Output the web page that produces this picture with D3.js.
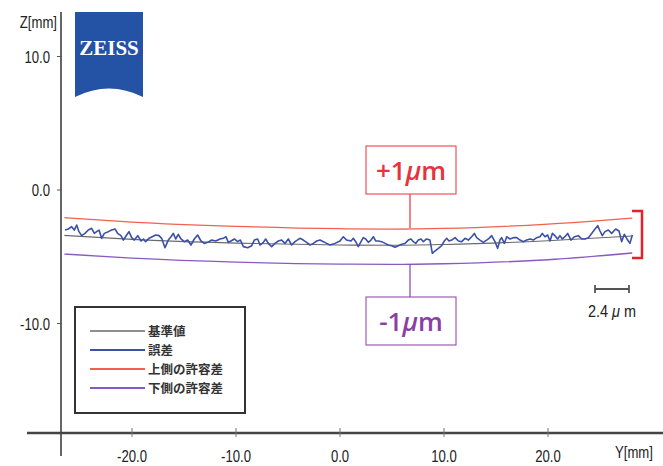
<!DOCTYPE html>
<html>
<head>
<meta charset="utf-8">
<title>Z profile</title>
<script src="https://d3js.org/d3.v7.min.js"></script>
<style>
  body { margin: 0; background: #fff; }
  svg { display: block; }
  .tick-lbl { font-family: "Liberation Sans", Arial, sans-serif; font-size: 16px; fill: #222; }
  .leg { font-family: "Noto Sans CJK JP", sans-serif; font-size: 12.5px; font-weight: bold; fill: #333; }
</style>
</head>
<body>
<div id="chart"></div>
<script>
const width = 663, height = 466;

// nominal / tolerance curves, Y in mm, Z in mm
const curveY = [-26.5, -20, -10, 0, 5, 10, 20, 28.1];
const nominalZ = [-3.40, -3.70, -3.98, -4.12, -4.14, -4.08, -3.80, -3.45];
const upperZ = [-2.07, -2.40, -2.72, -2.90, -2.93, -2.88, -2.55, -2.10];
const lowerZ = [-4.80, -5.10, -5.40, -5.55, -5.57, -5.52, -5.22, -4.72];

// measured profile (error)
const errY = [-26.44, -26.12, -25.80, -25.55, -25.32, -25.10, -24.84, -24.52, -24.20, -23.88,
  -23.62, -23.40, -23.17, -22.92, -22.66, -22.28, -21.96, -21.63, -21.38, -21.06,
  -20.83, -20.51, -20.29, -20.03, -19.78, -19.45, -19.13, -18.91, -18.69, -18.37,
  -18.05, -17.72, -17.40, -17.15, -16.83, -16.51, -16.25, -16.03, -15.80, -15.55,
  -15.29, -14.97, -14.65, -14.33, -14.01, -13.69, -13.37, -13.05, -12.72, -12.34,
  -11.95, -11.54, -11.22, -10.96, -10.74, -10.48, -10.16, -9.84, -9.58, -9.29,
  -8.88, -8.49, -8.24, -7.92, -7.69, -7.37, -7.15, -6.89, -6.57, -6.25,
  -5.93, -5.61, -5.29, -4.97, -4.65, -4.33, -3.85, -3.53, -3.21, -2.88,
  -2.56, -2.24, -1.92, -1.60, -1.28, -0.96, -0.48, 0.00, 0.32, 0.64,
  1.06, 1.28, 1.51, 1.76, 2.02, 2.24, 2.47, 2.72, 2.98, 3.21,
  3.43, 3.69, 4.01, 4.33, 4.65, 4.97, 5.29, 5.61, 5.93, 6.25,
  6.57, 6.83, 7.05, 7.28, 7.53, 7.79, 8.01, 8.33, 8.65, 8.88,
  9.13, 9.46, 9.78, 10.03, 10.26, 10.48, 10.74, 11.06, 11.38, 11.70,
  12.02, 12.34, 12.66, 12.92, 13.14, 13.46, 13.78, 14.10, 14.33, 14.58,
  14.90, 15.16, 15.38, 15.54, 15.80, 16.03, 16.35, 16.67, 16.99, 17.31,
  17.63, 17.95, 18.27, 18.59, 18.91, 19.23, 19.45, 19.71, 19.97, 20.19,
  20.42, 20.67, 20.93, 21.15, 21.38, 21.63, 21.89, 22.21, 22.53, 22.92,
  23.24, 23.56, 23.88, 24.20, 24.52, 24.78, 25.00, 25.22, 25.48, 25.80,
  26.12, 26.51, 26.83, 27.08, 27.34, 27.66, 27.88, 28.11];
const errZ = [-3.00, -2.92, -2.75, -3.00, -2.62, -3.12, -3.42, -3.25, -3.00, -2.87,
  -3.25, -3.12, -3.00, -3.62, -3.25, -3.12, -3.00, -2.92, -3.25, -3.42,
  -3.75, -3.37, -3.12, -3.57, -3.75, -3.42, -3.82, -3.67, -3.87, -3.62,
  -3.50, -3.37, -3.42, -3.62, -4.32, -3.75, -3.50, -3.25, -3.67, -3.32,
  -3.67, -3.87, -3.75, -4.12, -3.67, -3.37, -3.82, -4.00, -3.92, -3.75,
  -3.82, -3.67, -3.62, -3.50, -3.92, -3.82, -3.67, -3.87, -3.75, -4.24,
  -4.32, -4.17, -3.75, -3.67, -4.12, -3.92, -3.67, -4.00, -4.24, -4.00,
  -3.82, -3.75, -4.00, -3.67, -4.12, -3.87, -3.62, -3.75, -3.92, -4.12,
  -4.00, -3.82, -3.75, -3.87, -4.00, -4.12, -4.00, -3.82, -3.50, -3.75,
  -3.82, -3.62, -3.87, -4.24, -3.87, -3.57, -3.67, -3.92, -3.75, -3.50,
  -3.82, -3.82, -3.87, -4.00, -4.12, -4.17, -4.29, -4.17, -4.07, -4.00,
  -3.75, -3.67, -3.87, -4.00, -3.75, -3.67, -3.87, -3.67, -3.75, -4.74,
  -4.57, -4.37, -4.17, -3.82, -3.62, -3.82, -3.75, -3.57, -3.82, -3.87,
  -3.62, -3.75, -3.50, -3.25, -3.57, -3.75, -3.92, -3.75, -3.62, -3.42,
  -3.87, -4.37, -3.75, -3.57, -4.00, -3.50, -3.67, -3.57, -3.57, -3.75,
  -3.87, -3.75, -3.67, -3.75, -3.57, -3.50, -3.25, -3.50, -3.37, -3.82,
  -3.25, -3.42, -3.67, -3.42, -3.67, -3.50, -3.25, -3.75, -3.50, -3.42,
  -3.67, -3.67, -3.57, -3.25, -2.92, -2.67, -3.07, -3.42, -3.12, -3.00,
  -3.25, -2.92, -3.07, -3.87, -3.32, -3.75, -4.00, -3.37];

const xTicks = [-20, -10, 0, 10, 20];
const zTicks = [10, 0, -10];

const legendNames = ["基準値", "誤差", "上側の許容差", "下側の許容差"];
const legendColors = ["#6a6a6a", "#3b50a8", "#f2604f", "#8a5ac2"];

const svg = d3.select("#chart").append("svg")
  .attr("width", width).attr("height", height);

const x = d3.scaleLinear().domain([-20, 20]).range([132, 548]);
const y = d3.scaleLinear().domain([-10, 10]).range([323.5, 56.5]);
const fmt = d => d3.format(".1f")(d).replace("−", "-");

// condensed label helper
function label(px, py, txt, anchor) {
  return svg.append("text").attr("class", "tick-lbl")
    .attr("transform", "translate(" + px + "," + py + ") scale(0.82,1)")
    .attr("text-anchor", anchor)
    .text(txt);
}

// axes
svg.append("line").attr("x1", 61).attr("x2", 61).attr("y1", 12).attr("y2", 456)
  .attr("stroke", "#333").attr("stroke-width", 1.5);
svg.append("line").attr("x1", 27).attr("x2", 663).attr("y1", 433).attr("y2", 433)
  .attr("stroke", "#444").attr("stroke-width", 2.5);

svg.selectAll(".zt").data(zTicks).enter().append("line")
  .attr("x1", 57).attr("x2", 62)
  .attr("y1", d => y(d)).attr("y2", d => y(d))
  .attr("stroke", "#555");
zTicks.forEach(d => label(50, y(d) + 6, fmt(d), "end"));
label(57, 28, "Z[mm]", "end");

svg.selectAll(".xt").data(xTicks).enter().append("line")
  .attr("x1", d => x(d)).attr("x2", d => x(d))
  .attr("y1", 428).attr("y2", 437)
  .attr("stroke", "#777");
xTicks.forEach(d => label(x(d), 462, fmt(d), "middle"));
label(634, 458, "Y[mm]", "middle");

// ZEISS logo
svg.append("path")
  .attr("d", "M75,12 H143 V97 Q109,80 75,97 Z")
  .attr("fill", "#2452a4");
svg.append("text")
  .attr("x", 109).attr("y", 55)
  .attr("text-anchor", "middle")
  .style("font-family", "'Liberation Serif', 'DejaVu Serif', serif")
  .style("font-weight", "bold")
  .style("font-size", "21px")
  .attr("fill", "#fff")
  .text("ZEISS");

// curves
const smooth = d3.line().x(d => x(d[0])).y(d => y(d[1])).curve(d3.curveMonotoneX);
const straight = d3.line().x(d => x(d[0])).y(d => y(d[1]));

svg.append("path").datum(curveY.map((v, i) => [v, upperZ[i]]))
  .attr("d", smooth).attr("fill", "none").attr("stroke", legendColors[2]).attr("stroke-width", 1.2);
svg.append("path").datum(curveY.map((v, i) => [v, lowerZ[i]]))
  .attr("d", smooth).attr("fill", "none").attr("stroke", legendColors[3]).attr("stroke-width", 1.4);
svg.append("path").datum(curveY.map((v, i) => [v, nominalZ[i]]))
  .attr("d", smooth).attr("fill", "none").attr("stroke", legendColors[0]).attr("stroke-width", 1.1);
svg.append("path").datum(errY.map((v, i) => [v, errZ[i]]))
  .attr("d", straight).attr("fill", "none").attr("stroke", legendColors[1])
  .attr("stroke-width", 1.6).attr("stroke-linejoin", "round");

// +1 / -1 annotations
const annX = 410;
svg.append("line").attr("x1", annX).attr("x2", annX).attr("y1", 194).attr("y2", 228)
  .attr("stroke", "#e8323c").attr("stroke-width", 1.2);
svg.append("line").attr("x1", annX).attr("x2", annX).attr("y1", 264).attr("y2", 297)
  .attr("stroke", "#8a3fa6").attr("stroke-width", 1.2);

function box(y0, col, txt) {
  svg.append("rect").attr("x", 366).attr("y", y0).attr("width", 90).attr("height", 48)
    .attr("fill", "#fff").attr("stroke", col).attr("stroke-width", 1);
  const t = svg.append("text").attr("x", 411).attr("y", y0 + 34)
    .attr("text-anchor", "middle")
    .style("font-family", "'Open Sans', 'Noto Sans', sans-serif")
    .style("font-weight", "600")
    .style("font-size", "26px").attr("fill", col);
  t.append("tspan").text(txt);
  t.append("tspan").style("font-style", "italic").text("μ");
  t.append("tspan").text("m");
}
box(146, "#e8323c", "+1");
box(297, "#8a3fa6", "-1");

// red bracket
svg.append("path").attr("d", "M632,211 H642 V258 H632")
  .attr("fill", "none").attr("stroke", "#e8202a").attr("stroke-width", 2.5);

// scale bar
svg.append("path").attr("d", "M595,285 V293 M595,289 H629 M629,285 V293")
  .attr("fill", "none").attr("stroke", "#555").attr("stroke-width", 1.8);
const sb = svg.append("text").attr("class", "tick-lbl")
  .attr("transform", "translate(612,317) scale(0.85,1)")
  .attr("text-anchor", "middle").style("font-size", "17px")
  .attr("xml:space", "preserve");
sb.append("tspan").text("2.4 ");
sb.append("tspan").style("font-style", "italic").text("μ");
sb.append("tspan").text(" m");

// legend
svg.append("rect").attr("x", 75).attr("y", 307).attr("width", 170).attr("height", 106)
  .attr("fill", "#fff").attr("stroke", "#333").attr("stroke-width", 2);
const rowsY = [331, 350, 369, 388];
const leg = svg.selectAll(".legrow").data(legendNames).enter().append("g");
leg.append("line").attr("x1", 90).attr("x2", 145)
  .attr("y1", (d, i) => rowsY[i]).attr("y2", (d, i) => rowsY[i])
  .attr("stroke", (d, i) => legendColors[i]).attr("stroke-width", (d, i) => i === 0 ? 1.3 : 2.2);
leg.append("text").attr("class", "leg")
  .attr("x", 148).attr("y", (d, i) => rowsY[i] + 4.5)
  .text(d => d);
</script>
</body>
</html>
